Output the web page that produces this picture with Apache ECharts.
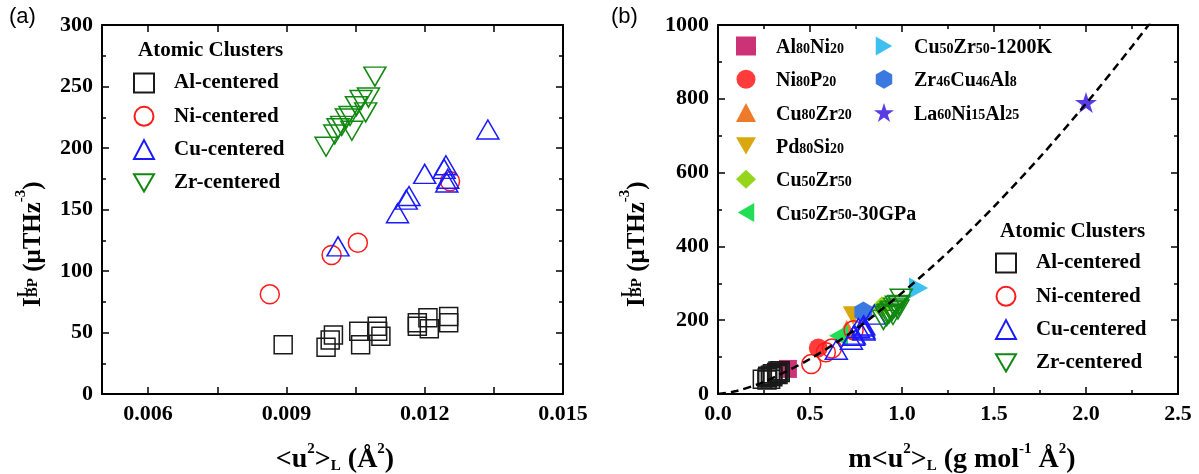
<!DOCTYPE html>
<html>
<head>
<meta charset="utf-8">
<title>I_BP vs u2</title>
<script src="https://cdn.jsdelivr.net/npm/echarts@6/dist/echarts.min.js"></script>
<style>
html, body { margin: 0; padding: 0; background: #fff; }
#wrap { position: relative; width: 1199px; height: 474px; }
#frame, #chart { position: absolute; left: 0; top: 0; width: 1199px; height: 474px; }
</style>
</head>
<body>
<div id="wrap">
    <div id="frame"></div>
    <div id="chart"></div>
</div>
<script>
// ---- panel (a): <u2>_L (A^2) vs I_BP for every cluster type ----
var alU = [0.00893, 0.00986, 0.00995, 0.01002, 0.01057, 0.01061, 0.01097, 0.01098, 0.01105, 0.01184, 0.01184, 0.01207, 0.01210, 0.01252, 0.01252];
var alI = [40, 38, 44, 48, 51, 40, 55, 51, 47, 58, 55, 62, 53, 63, 58];
var niU = [0.00864, 0.00998, 0.01055, 0.01255];
var niI = [81, 113, 123, 173];
var cuU = [0.01012, 0.01141, 0.01160, 0.01166, 0.01200, 0.01242, 0.01246, 0.01250, 0.01248, 0.01337];
var cuI = [120, 147, 158, 161, 179, 183, 186, 175, 172, 215];
var zrU = [0.00986, 0.01005, 0.01012, 0.01020, 0.01030, 0.01038, 0.01042, 0.01052, 0.01062, 0.01072, 0.01078, 0.01092];
var zrI = [201, 211, 216, 218, 224, 226, 214, 234, 239, 229, 241, 258];

// ---- panel (b): m<u2>_L (g/mol A^2), same I_BP values ----
var alMU = [0.241, 0.266, 0.268, 0.270, 0.285, 0.286, 0.296, 0.296, 0.298, 0.319, 0.319, 0.326, 0.326, 0.338, 0.338];
var niMU = [0.507, 0.586, 0.619, 0.737];
var cuMU = [0.643, 0.725, 0.737, 0.741, 0.763, 0.789, 0.792, 0.794, 0.793, 0.850];
var zrMU = [0.899, 0.917, 0.923, 0.930, 0.940, 0.947, 0.951, 0.960, 0.969, 0.978, 0.983, 0.996];

// glasses (filled symbols)
var matNames = ['Al80Ni20', 'Ni80P20', 'Cu80Zr20', 'Pd80Si20', 'Cu50Zr50', 'Cu50Zr50-30GPa', 'Cu50Zr50-1200K', 'Zr46Cu46Al8', 'La60Ni15Al25'];
var matX = [0.38, 0.545, 0.70, 0.735, 0.89, 0.655, 1.09, 0.79, 2.0];
var matY = [68, 125, 175, 212, 235, 158, 287, 222, 790];

// dashed fit curve
var fitX = [0, 0.1, 0.25, 0.5, 0.75, 1.0, 1.25, 1.5, 1.75, 2.0, 2.25, 2.4];
var fitY = [0, 8, 33, 95, 176, 274, 384, 508, 642, 787, 942, 1039];

// axis ticks of panel (a) x axis
var xTicksA = [0.006, 0.0075, 0.009, 0.0105, 0.012, 0.0135, 0.015];
var xLabelsA = [0.006, 0.009, 0.012, 0.015];

var FONT = '"Liberation Serif", "Times New Roman", serif';
var SANS = '"Liberation Sans", Arial, sans-serif';
var DOWN = 'path://M0,0L2,0L1,1.732Z';
var LEFT = 'path://M0,1L1.732,0L1.732,2Z';
var RIGHT = 'path://M0,0L1.732,1L0,2Z';
var HEX = 'path://M0.866,0L1.732,0.5L1.732,1.5L0.866,2L0,1.5L0,0.5Z';
var STAR = 'path://M1,0L1.2245,0.691L1.951,0.691L1.3633,1.118L1.5878,1.809L1,1.382L0.4122,1.809L0.6367,1.118L0.049,0.691L0.7755,0.691Z';

function pairs(xs, ys) {
    return xs.map(function (x, i) { return [x, ys[i]]; });
}

function valueAxis(o, hidden) {
    var ax = {
        type: 'value', gridIndex: o.grid, position: o.pos, min: o.min, max: o.max,
        splitLine: { show: false },
        axisLine: { show: true, onZero: false, lineStyle: { color: '#000', width: 2 } },
        axisTick: { show: true, inside: true, length: 7, lineStyle: { color: '#000', width: 1.5 } },
        axisLabel: {
            show: !!o.labels, color: '#000', fontFamily: FONT, fontWeight: 'bold', fontSize: 22, margin: 9,
            formatter: o.fmt || function (v) { return String(v); }
        }
    };
    if (o.interval) {
        ax.interval = o.interval;
        ax.minorTick = { show: true, splitNumber: 2, length: 4, lineStyle: { color: '#000', width: 1.5 } };
    }
    if (o.ticks) {
        ax.axisTick.customValues = o.ticks;
        ax.axisLabel.customValues = o.labelValues;
    }
    if (hidden) {
        ax.axisLine.show = false;
        ax.axisTick.show = false;
        ax.axisLabel.show = false;
        if (ax.minorTick) ax.minorTick.show = false;
    }
    return ax;
}

function axes(hidden) {
    return {
        grid: [
            { left: 102, top: 25, width: 461, height: 369, outerBoundsMode: 'none' },
            { left: 718, top: 25, width: 460, height: 369, outerBoundsMode: 'none' }
        ],
        xAxis: [
            valueAxis({ grid: 0, pos: 'bottom', min: 0.005, max: 0.015, ticks: xTicksA, labelValues: xLabelsA, labels: true, fmt: function (v) { return v.toFixed(3); } }, hidden),
            valueAxis({ grid: 0, pos: 'top', min: 0.005, max: 0.015, ticks: xTicksA, labelValues: xLabelsA, labels: false }, hidden),
            valueAxis({ grid: 1, pos: 'bottom', min: 0, max: 2.5, interval: 0.5, labels: true, fmt: function (v) { return v.toFixed(1); } }, hidden),
            valueAxis({ grid: 1, pos: 'top', min: 0, max: 2.5, interval: 0.5, labels: false }, hidden)
        ],
        yAxis: [
            valueAxis({ grid: 0, pos: 'left', min: 0, max: 300, interval: 50, labels: true }, hidden),
            valueAxis({ grid: 0, pos: 'right', min: 0, max: 300, interval: 50, labels: false }, hidden),
            valueAxis({ grid: 1, pos: 'left', min: 0, max: 1000, interval: 200, labels: true }, hidden),
            valueAxis({ grid: 1, pos: 'right', min: 0, max: 1000, interval: 200, labels: false }, hidden)
        ]
    };
}

function hollow(name, symbol, size, color, data, idx) {
    return {
        type: 'scatter', name: name, symbol: symbol, symbolSize: size,
        xAxisIndex: idx, yAxisIndex: idx, data: data, z: 3,
        itemStyle: { color: 'rgba(0,0,0,0)', borderColor: color, borderWidth: 1.5, opacity: 1 },
        emphasis: { disabled: true }
    };
}

var matStyle = {
    'Al80Ni20': ['rect', 18, '#cc3377'],
    'Ni80P20': ['circle', 19, '#ff3b3b'],
    'Cu80Zr20': ['triangle', [21, 19], '#ee7a2a'],
    'Pd80Si20': [DOWN, [21, 19], '#d9a80f'],
    'Cu50Zr50': ['diamond', [22, 22], '#94d61c'],
    'Cu50Zr50-30GPa': [LEFT, [19, 21], '#22dd55'],
    'Cu50Zr50-1200K': [RIGHT, [19, 21], '#3ec0ee'],
    'Zr46Cu46Al8': [HEX, [18, 21], '#3b78e0'],
    'La60Ni15Al25': [STAR, [22, 21], '#5a3ce6']
};

var series = [
    hollow('Al-centered', 'rect', 18, '#1a1a1a', pairs(alU, alI), 0),
    hollow('Ni-centered', 'circle', 19, '#ff1a1a', pairs(niU, niI), 0),
    hollow('Cu-centered', 'triangle', [22, 19], '#1a1aff', pairs(cuU, cuI), 0),
    hollow('Zr-centered', DOWN, [22, 19], '#118811', pairs(zrU, zrI), 0)
];
matNames.forEach(function (n, i) {
    var s = matStyle[n];
    series.push({
        type: 'scatter', name: n, symbol: s[0], symbolSize: s[1],
        xAxisIndex: 2, yAxisIndex: 2, data: [[matX[i], matY[i]]], z: 2,
        itemStyle: { color: s[2], opacity: 1 },
        emphasis: { disabled: true }
    });
});
series.push(
    hollow('Al-centered', 'rect', 18, '#1a1a1a', pairs(alMU, alI), 2),
    hollow('Ni-centered', 'circle', 19, '#ff1a1a', pairs(niMU, niI), 2),
    hollow('Cu-centered', 'triangle', [22, 19], '#1a1aff', pairs(cuMU, cuI), 2),
    hollow('Zr-centered', DOWN, [22, 19], '#118811', pairs(zrMU, zrI), 2),
    {
        type: 'line', name: 'fit', xAxisIndex: 2, yAxisIndex: 2, z: 5,
        data: pairs(fitX, fitY), smooth: 0.3, showSymbol: false, symbol: 'none',
        lineStyle: { color: '#000', width: 2.5, type: [8, 5] }, clip: true,
        emphasis: { disabled: true }
    }
);

// "Al80Ni20" -> Al{80}Ni{20} with the numbers as subscripts ("-30GPa" stays plain)
function subFormat(name) {
    var out = '';
    var re = /([A-Za-z])(\d+)/g, last = 0, m;
    while ((m = re.exec(name)) !== null) {
        out += '{n|' + name.slice(last, m.index + 1) + '}{s|' + m[2] + '}';
        last = m.index + m[0].length;
    }
    if (!out) return name;
    if (last < name.length) out += '{n|' + name.slice(last) + '}';
    return out;
}
function legend(names, left, top, size) {
    return {
        data: names, orient: 'vertical', left: left, top: top, padding: 0,
        itemWidth: 20, itemHeight: 19, itemGap: 9.3, selectedMode: false,
        formatter: subFormat,
        textStyle: {
            color: '#000', fontFamily: FONT, fontWeight: 'bold', fontSize: size, lineHeight: 24,
            padding: [0, 0, 0, 15],
            rich: {
                n: { color: '#000', fontFamily: FONT, fontWeight: 'bold', fontSize: size, lineHeight: 24, verticalAlign: 'bottom' },
                s: { color: '#000', fontFamily: FONT, fontWeight: 'bold', fontSize: 14, lineHeight: 14, verticalAlign: 'bottom', padding: [0, 0, 2, 0] }
            }
        }
    };
}

function titleRich(big) {
    return {
        m: { fontFamily: FONT, fontWeight: 'bold', fontSize: big, lineHeight: 32, verticalAlign: 'bottom' },
        sp: { fontFamily: FONT, fontWeight: 'bold', fontSize: 15, lineHeight: 15, verticalAlign: 'bottom', padding: [0, 0, 17, 0] },
        sb: { fontFamily: FONT, fontWeight: 'bold', fontSize: 15, lineHeight: 15, verticalAlign: 'bottom', padding: [0, 0, 5, 0] },
        sl: { fontFamily: FONT, fontWeight: 'bold', fontSize: 15, lineHeight: 15, verticalAlign: 'bottom' }
    };
}
function yTitle(x, y) {
    return {
        type: 'group', x: x, y: y, rotation: Math.PI / 2,
        children: [
            { type: 'text', x: 0, y: 0, style: { text: '{m|I}{sb|BP}{m| (\u03bcTHz}{sp|-3}{m|)}', rich: titleRich(25), align: 'left', verticalAlign: 'bottom', fill: '#000' } },
            { type: 'text', x: 10, y: -15, style: { text: 'L', font: 'bold 15px ' + FONT, align: 'left', verticalAlign: 'bottom', fill: '#000' } }
        ]
    };
}

// frame layer: axis lines, ticks and tick labels
var frame = echarts.init(document.getElementById('frame'));
var frameOpt = axes(false);
frameOpt.backgroundColor = '#fff';
frameOpt.animation = false;
frameOpt.series = [];
frame.setOption(frameOpt);

// data layer on top, same grids and scales, axes not drawn again
var chart = echarts.init(document.getElementById('chart'));
var opt = axes(true);
opt.backgroundColor = 'transparent';
opt.animation = false;
opt.legend = [
    legend(['Al-centered', 'Ni-centered', 'Cu-centered', 'Zr-centered'], 133, 71, 21),
    legend(matNames.slice(0, 6), 736, 34, 20),
    legend(matNames.slice(6), 874, 34, 20),
    legend(['Al-centered', 'Ni-centered', 'Cu-centered', 'Zr-centered'], 995, 251, 21)
];
opt.graphic = [
    { type: 'text', left: 9, top: 6, style: { text: '(a)', font: '22px ' + SANS, fill: '#000' } },
    { type: 'text', left: 611, top: 6, style: { text: '(b)', font: '22px ' + SANS, fill: '#000' } },
    { type: 'text', left: 138, top: 40, style: { text: 'Atomic Clusters', font: 'bold 21px ' + FONT, fill: '#000' } },
    { type: 'text', left: 1000, top: 221, style: { text: 'Atomic Clusters', font: 'bold 21px ' + FONT, fill: '#000' } },
    { type: 'text', x: 335, y: 474, style: { text: '{m|<u}{sp|2}{m|>}{sl|L}{m| (\u00c5}{sp|2}{m|)}', rich: titleRich(28), align: 'center', verticalAlign: 'bottom', fill: '#000' } },
    { type: 'text', x: 962, y: 474, style: { text: '{m|m<u}{sp|2}{m|>}{sl|L}{m| (g mol}{sp|-1}{m| \u00c5}{sp|2}{m|)}', rich: titleRich(28), align: 'center', verticalAlign: 'bottom', fill: '#000' } },
    yTitle(46, 307),
    yTitle(650, 307)
];
opt.series = series;
chart.setOption(opt);
</script>
</body>
</html>
